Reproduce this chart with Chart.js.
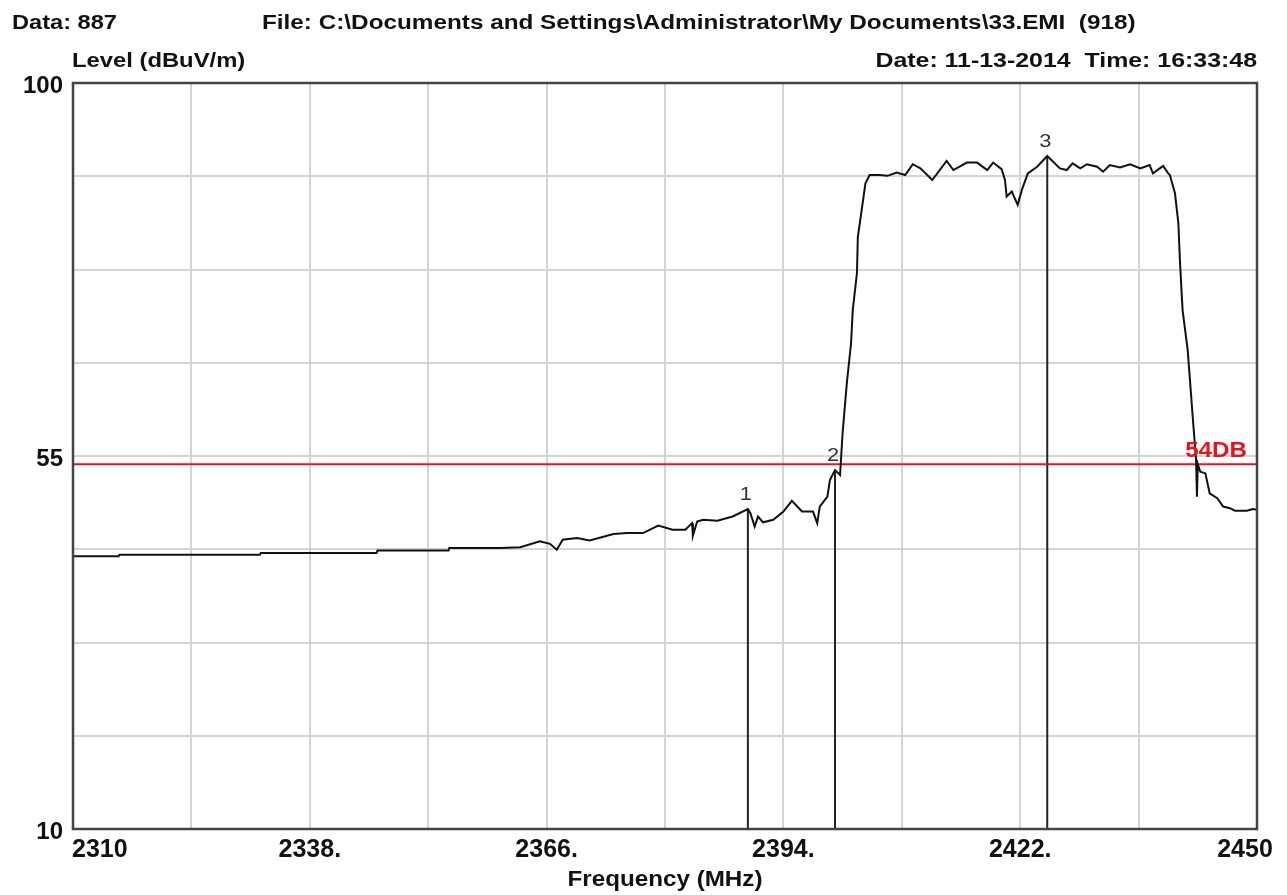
<!DOCTYPE html>
<html>
<head>
<meta charset="utf-8">
<title>EMI scan 33.EMI</title>
<script src="https://cdn.jsdelivr.net/npm/chart.js@4.4.1/dist/chart.umd.min.js"></script>
<style>
  html, body { margin: 0; padding: 0; background: #fff; }
  #wrap { width: 1287px; height: 895px; position: relative; }
</style>
</head>
<body>
<div id="wrap"><canvas id="emiChart"></canvas></div>
<script>
// Scan trace: frequency (MHz) and level (dBuV/m)
const freqs = [
  2310.0, 2315.4, 2315.5, 2332.1, 2332.2, 2345.9, 2346.0, 2354.4, 2354.5, 2360.5,
  2362.9, 2365.2, 2366.4, 2367.2, 2367.9, 2369.6, 2371.1, 2373.9, 2375.5, 2377.4,
  2379.2, 2380.9, 2382.4, 2383.2, 2383.3, 2383.8, 2384.5, 2386.2, 2388.0, 2389.8,
  2390.1, 2390.6, 2391.0, 2391.6, 2392.8, 2394.0, 2395.0, 2396.2, 2397.5, 2398.0,
  2398.3, 2399.2, 2399.5, 2400.1, 2400.7, 2401.0, 2401.5, 2402.0, 2402.2, 2402.7,
  2402.8, 2403.3, 2403.7, 2404.2, 2405.4, 2406.3, 2407.4, 2408.4, 2409.3, 2410.2,
  2411.6, 2413.3, 2414.1, 2415.7, 2416.9, 2418.1, 2418.8, 2419.8, 2420.2, 2420.4,
  2421.0, 2421.7, 2422.2, 2422.9, 2424.0, 2425.2, 2426.7, 2427.5, 2428.2, 2429.1,
  2429.9, 2431.1, 2431.8, 2432.6, 2433.8, 2435.0, 2436.2, 2437.3, 2437.7, 2438.9,
  2439.5, 2439.7, 2440.3, 2440.7, 2440.9, 2441.2, 2441.8, 2442.1, 2442.4, 2442.8,
  2442.9, 2443.0, 2443.3, 2443.9, 2444.4, 2445.3, 2446.0, 2446.8, 2447.4, 2448.8,
  2449.5, 2450.0
];
const levels = [
  42.9, 42.9, 43.1, 43.1, 43.3, 43.3, 43.6, 43.6, 43.9, 43.9,
  44.0, 44.7, 44.4, 43.7, 44.9, 45.1, 44.8, 45.6, 45.7, 45.7,
  46.6, 46.1, 46.1, 46.9, 45.4, 47.1, 47.3, 47.2, 47.7, 48.6,
  48.1, 46.5, 47.7, 47.0, 47.3, 48.3, 49.6, 48.3, 48.3, 46.9,
  48.9, 50.1, 52.1, 53.3, 52.7, 57.8, 63.8, 68.6, 72.6, 77.1,
  81.4, 85.0, 87.9, 88.9, 88.9, 88.8, 89.2, 88.9, 90.2, 89.7,
  88.3, 90.6, 89.5, 90.4, 90.4, 89.5, 90.4, 89.6, 88.3, 86.3,
  86.9, 85.3, 87.1, 89.1, 89.9, 91.2, 89.7, 89.5, 90.3, 89.7,
  90.2, 89.9, 89.3, 90.1, 89.8, 90.2, 89.7, 90.1, 89.1, 90.0,
  89.1, 88.9, 86.7, 83.1, 78.3, 72.6, 67.8, 63.8, 59.7, 54.5,
  50.1, 54.0, 53.1, 52.9, 50.5, 49.9, 48.9, 48.7, 48.4, 48.4,
  48.6, 48.5
];

// Markers 1..3
const markerNames = ["1", "2", "3"];
const markerFreqs = [2389.8, 2400.1, 2425.2];
const markerLevels = [48.6, 53.3, 91.2];

// Limit line
const limitLevel = 54;
const limitName = "54DB";

// Axis ranges and tick labels
const xMin = 2310, xMax = 2450, xStep = 14;
const yMin = 10, yMax = 100, yStep = 11.25;
const xTickValues = [2310, 2338, 2366, 2394, 2422, 2450];
const xTickLabels = ["2310", "2338.", "2366.", "2394.", "2422.", "2450"];
const yTickValues = [100, 55, 10];
const yTickLabels = ["100", "55", "10"];

// Header / axis texts
const headerData = "Data: 887";
const headerFile = "File: C:\\Documents and Settings\\Administrator\\My Documents\\33.EMI  (918)";
const headerDate = "Date: 11-13-2014  Time: 16:33:48";
const yAxisTitle = "Level (dBuV/m)";
const xAxisTitle = "Frequency (MHz)";

const FONT = '"Liberation Sans", Arial, sans-serif';

// Draw text stretched horizontally (the original print is wide)
function stretchText(ctx, text, x, y, size, weight, align, sx, color) {
  ctx.save();
  ctx.font = `${weight} ${size}px ${FONT}`;
  ctx.fillStyle = color;
  ctx.textBaseline = "alphabetic";
  ctx.textAlign = "left";
  const w = ctx.measureText(text).width * sx;
  let left = x;
  if (align === "right") left = x - w;
  else if (align === "center") left = x - w / 2;
  ctx.translate(left, y);
  ctx.scale(sx, 1);
  ctx.fillText(text, 0, 0);
  ctx.restore();
}

// Frame, tick labels, titles and marker labels
const decorations = {
  id: "decorations",
  afterDraw(chart) {
    const ctx = chart.ctx;
    const area = chart.chartArea;
    const xs = chart.scales.x;
    const ys = chart.scales.y;
    const ink = "#111";

    // plot frame
    ctx.save();
    ctx.strokeStyle = "#444";
    ctx.lineWidth = 2.5;
    ctx.strokeRect(area.left, area.top, area.right - area.left, area.bottom - area.top);
    ctx.restore();

    // y tick labels
    yTickValues.forEach((v, i) => {
      stretchText(ctx, yTickLabels[i], area.left - 10, ys.getPixelForValue(v) + 10, 24, "bold", "right", 1.0, ink);
    });

    // x tick labels: first left-aligned, last pulled in, others centred
    xTickValues.forEach((v, i) => {
      const px = xs.getPixelForValue(v);
      let align = "center";
      let x = px;
      if (i === 0) { align = "left"; x = px - 1; }
      if (i === xTickValues.length - 1) { x = px - 12; }
      stretchText(ctx, xTickLabels[i], x, area.bottom + 28, 25, "bold", align, 1.0, ink);
    });

    // headers
    stretchText(ctx, headerData, 12, 29, 20, "bold", "left", 1.18, ink);
    stretchText(ctx, headerFile, 262, 29, 20, "bold", "left", 1.215, ink);
    stretchText(ctx, yAxisTitle, area.left - 1, 67, 20, "bold", "left", 1.19, ink);
    stretchText(ctx, headerDate, area.right, 67, 20, "bold", "right", 1.245, ink);
    stretchText(ctx, xAxisTitle, (area.left + area.right) / 2, 886, 22, "bold", "center", 1.1, ink);

    // limit label
    stretchText(ctx, limitName, area.right - 10, ys.getPixelForValue(limitLevel) - 7, 22, "bold", "right", 1.1, "#e8141c");

    // marker numbers
    markerFreqs.forEach((f, i) => {
      stretchText(ctx, markerNames[i], xs.getPixelForValue(f) - 2, ys.getPixelForValue(markerLevels[i]) - 9, 19, "normal", "center", 1.15, "#333");
    });
  }
};

// Build datasets
const traceData = freqs.map((f, i) => ({ x: f, y: levels[i] }));
const datasets = [
  { data: traceData, borderColor: "#111", borderWidth: 2 },
  { data: [{ x: xMin, y: limitLevel }, { x: xMax, y: limitLevel }], borderColor: "#e8141c", borderWidth: 2 }
];
markerFreqs.forEach((f, i) => {
  datasets.push({
    data: [{ x: f, y: markerLevels[i] }, { x: f, y: yMin }],
    borderColor: "#222",
    borderWidth: 2
  });
});

const ctx = document.getElementById("emiChart").getContext("2d");
new Chart(ctx, {
  type: "line",
  data: { datasets: datasets },
  options: {
    responsive: true,
    maintainAspectRatio: false,
    animation: false,
    layout: { padding: { left: 73, top: 83, right: 30, bottom: 66 } },
    elements: { point: { radius: 0 }, line: { tension: 0 } },
    plugins: { legend: { display: false }, tooltip: { enabled: false } },
    scales: {
      x: {
        type: "linear",
        min: xMin,
        max: xMax,
        ticks: { display: false, stepSize: xStep },
        grid: { color: "#d4d4d4", lineWidth: 2, drawTicks: false },
        border: { display: false }
      },
      y: {
        type: "linear",
        min: yMin,
        max: yMax,
        ticks: { display: false, stepSize: yStep },
        grid: { color: "#d4d4d4", lineWidth: 2, drawTicks: false },
        border: { display: false }
      }
    }
  },
  plugins: [decorations]
});
</script>
</body>
</html>
